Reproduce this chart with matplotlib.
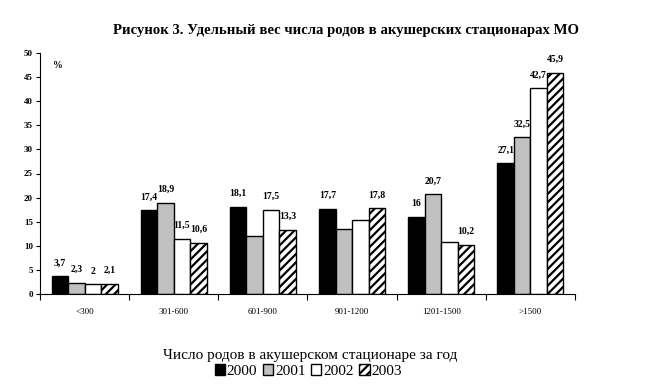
import matplotlib
matplotlib.use("Agg")
import matplotlib.pyplot as plt
import numpy as np

categories = ["<300", "301-600", "601-900", "901-1200", "1201-1500", ">1500"]
years = ["2000", "2001", "2002", "2003"]
v2000 = [3.7, 17.4, 18.1, 17.7, 16.0, 27.1]
v2001 = [2.3, 18.9, 12.0, 13.5, 20.7, 32.5]
v2002 = [2.0, 11.5, 17.5, 15.4, 10.8, 42.7]
v2003 = [2.1, 10.6, 13.3, 17.8, 10.2, 45.9]
labels2000 = ["3,7", "17,4", "18,1", "17,7", "16", "27,1"]
labels2001 = ["2,3", "18,9", "", "", "20,7", "32,5"]
labels2002 = ["2", "11,5", "17,5", "", "", "42,7"]
labels2003 = ["2,1", "10,6", "13,3", "17,8", "10,2", "45,9"]
yticks = [0, 5, 10, 15, 20, 25, 30, 35, 40, 45, 50]

plt.rcParams['font.family'] = ['Liberation Serif', 'DejaVu Serif']
plt.rcParams['hatch.linewidth'] = 1.6

fig = plt.figure(figsize=(6.5, 3.86), dpi=100)
ax = fig.add_axes([40/650, 1-294/386, 535/650, 241/386])

series = [v2000, v2001, v2002, v2003]
labs = [labels2000, labels2001, labels2002, labels2003]
faces = ["black", "#c0c0c0", "white", "white"]
hatches = [None, None, None, "////"]
w = 0.185
x = np.arange(len(categories))
handles = []
for i, (vals, lab) in enumerate(zip(series, labs)):
    pos = x + (i - 1.5) * w
    b = ax.bar(pos, vals, w, color=faces[i], edgecolor="black", linewidth=1.0,
               hatch=hatches[i], label=years[i])
    handles.append(b)
    for p, v, t in zip(pos, vals, lab):
        if t:
            ax.text(p, v + 1.8, t, ha="center", va="bottom", fontsize=7,
                    fontweight="bold")

ax.set_xlim(-0.5, len(categories) - 0.5)
ax.set_ylim(0, 50)
ax.set_yticks(yticks)
ax.set_yticklabels([str(t) for t in yticks], fontsize=6.5, fontweight="bold")
ax.set_xticks(np.arange(-0.5, len(categories), 1.0))
ax.set_xticklabels([])
ax.set_xticks(x, minor=True)
ax.set_xticklabels(categories, minor=True, fontsize=6.5)
ax.tick_params(axis="x", which="minor", length=0, pad=10)
ax.tick_params(axis="x", which="major", length=4, direction="out")
ax.tick_params(axis="y", length=3, direction="out", pad=2)
for s in ["top", "right"]:
    ax.spines[s].set_visible(False)
ax.text(-0.35, 47.5, "%", fontsize=7, fontweight="bold", ha="left", va="center")

fig.text(0.532, 0.922, "Рисунок 3. Удельный вес числа родов в акушерских стационарах МО",
         ha="center", va="center", fontsize=10.6, fontweight="bold")
fig.text(0.477, 0.078, "Число родов в акушерском стационаре за год",
         ha="center", va="center", fontsize=11)
fig.legend(handles=handles, labels=years, loc="center", bbox_to_anchor=(0.474, 0.038),
           ncol=4, frameon=False, fontsize=11, handlelength=0.7, handleheight=0.7,
           handletextpad=0.1, columnspacing=0.35, borderpad=0)

fig.savefig("out.png", dpi=100)
